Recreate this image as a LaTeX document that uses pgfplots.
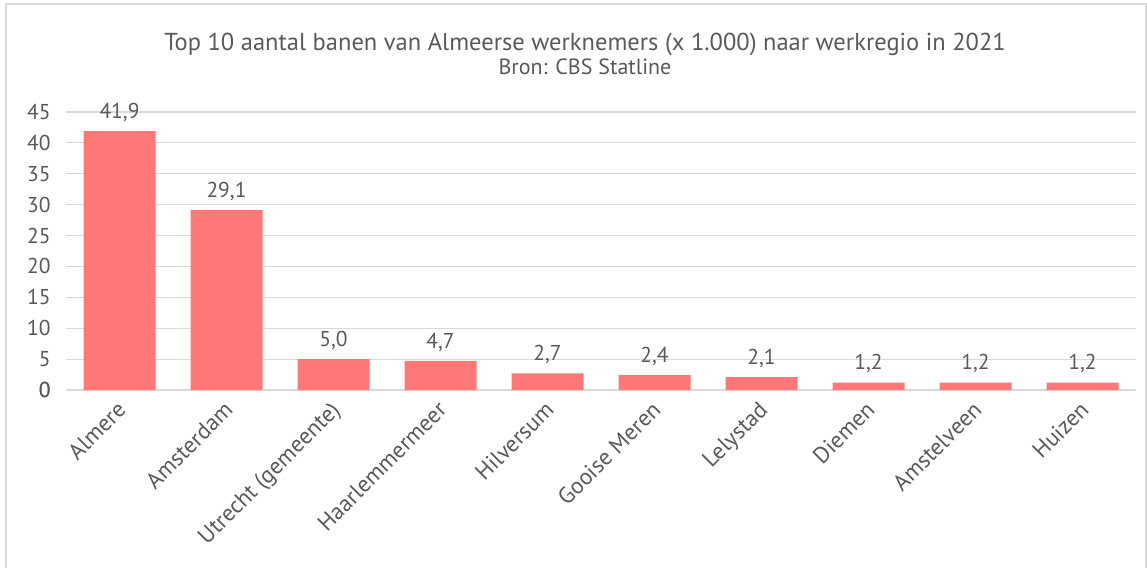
\documentclass[border=0pt]{standalone}
\usepackage{pgfplots}
\pgfplotsset{compat=1.18}
\usepackage{fontspec}
\setmainfont{PT Sans}
\definecolor{bar}{HTML}{FF7878}
\definecolor{txt}{HTML}{595959}
\definecolor{grd}{HTML}{D9D9D9}
\begin{document}
\begin{tikzpicture}
\path[use as bounding box] (-66bp,-178bp) rectangle (1081bp,390bp);
\draw[grd, line width=1.2bp] (-60bp,-190bp) rectangle (1080bp,386bp);
\begin{axis}[
  at={(0,0)}, anchor=south west,
  scale only axis, width=1070bp, height=278bp,
  xmin=-0.5, xmax=9.5, ymin=0, ymax=45,
  ytick={0,5,...,45},
  xtick=data,
  xticklabels={Almere,Amsterdam,Utrecht (gemeente),Haarlemmermeer,Hilversum,Gooise Meren,Lelystad,Diemen,Amstelveen,Huizen},
  axis line style={draw=none},
  major tick length=0pt,
  ymajorgrids, grid style={grd, line width=1.2bp},
  extra y ticks={0}, extra y tick style={grid style={grd, line width=1.5bp}},
  /pgf/number format/assume math mode=true,
  tick label style={font=\fontsize{21.5bp}{24bp}\selectfont, text=txt},
  yticklabel style={anchor=east, xshift=-12bp},
  xticklabel style={font=\fontsize{23bp}{26bp}\selectfont, xshift=-4bp, yshift=-5bp, rotate=45, anchor=north east},
  ybar, bar width=72bp, bar shift=0pt,
  nodes near coords,
  nodes near coords style={font=\fontsize{21.5bp}{24bp}\selectfont, text=txt, anchor=south, yshift=6bp,
    /pgf/number format/.cd, fixed, fixed zerofill, precision=1, use comma, assume math mode=true},
  title={Top 10 aantal banen van Almeerse werknemers (x 1.000) naar werkregio in 2021\\[-3bp]{\fontsize{22bp}{24bp}\selectfont Bron: CBS Statline}},
  title style={font=\fontsize{24.5bp}{27bp}\selectfont, text=txt, align=center, at={(0.5,1)}, anchor=south, yshift=28bp, xshift=-16bp},
]
\addplot[fill=bar, draw=none] coordinates {(0,41.9) (1,29.1) (2,5.0) (3,4.7) (4,2.7) (5,2.4) (6,2.1) (7,1.2) (8,1.2) (9,1.2)};
\end{axis}
\end{tikzpicture}
\end{document}
